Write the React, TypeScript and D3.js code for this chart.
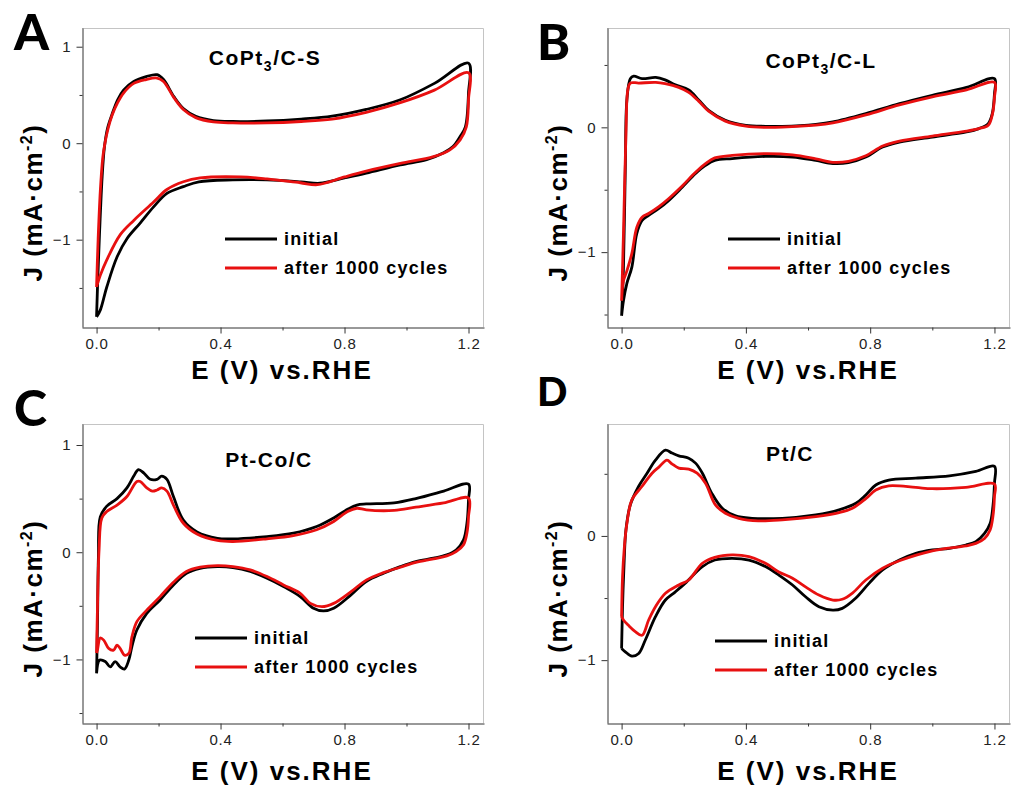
import React, { useEffect, useRef } from "react";
import * as d3 from "d3";

type Pt = [number, number];

const xTicks = [0, 0.4, 0.8, 1.2];
const xMinorTicks = [0.2, 0.6, 1.0];
const legendLabels = ["initial", "after 1000 cycles"];
const seriesColors = ["#000000", "#e81010"];

// CoPt3/C-S
const initialA: Pt[] = [
  [0, -1.8], [0.004, -1.4], [0.01, -0.9], [0.018, -0.35], [0.025, -0.05], [0.035, 0.15], [0.05, 0.3],
  [0.068, 0.45], [0.087, 0.55], [0.12, 0.64], [0.16, 0.69], [0.195, 0.71], [0.216, 0.66], [0.25, 0.48],
  [0.28, 0.36], [0.32, 0.28], [0.377, 0.235], [0.44, 0.225], [0.55, 0.23], [0.66, 0.25], [0.76, 0.28],
  [0.87, 0.35], [0.98, 0.45], [1.09, 0.62], [1.2, 0.83],
  [1.2, 0.52], [1.19, 0.17], [1.173, 0.07], [1.15, -0.035], [1.12, -0.1], [1.065, -0.17], [0.98, -0.225],
  [0.87, -0.31], [0.8, -0.36], [0.72, -0.415], [0.66, -0.4], [0.55, -0.38], [0.44, -0.38], [0.33, -0.4],
  [0.28, -0.45], [0.227, -0.52], [0.184, -0.66], [0.14, -0.83], [0.098, -0.99], [0.066, -1.18],
  [0.033, -1.49], [0.012, -1.73], [0, -1.8],
];
const afterA: Pt[] = [
  [0, -1.49], [0.005, -1.0], [0.012, -0.5], [0.02, -0.15], [0.027, 0.0], [0.037, 0.15], [0.05, 0.29],
  [0.068, 0.42], [0.087, 0.52], [0.12, 0.62], [0.16, 0.66], [0.195, 0.675], [0.216, 0.64], [0.25, 0.47],
  [0.28, 0.35], [0.32, 0.265], [0.377, 0.22], [0.44, 0.21], [0.55, 0.21], [0.66, 0.225], [0.76, 0.25],
  [0.87, 0.32], [0.98, 0.42], [1.09, 0.55], [1.2, 0.73],
  [1.2, 0.45], [1.193, 0.17], [1.173, 0.035], [1.14, -0.07], [1.087, -0.14], [0.98, -0.21], [0.87, -0.29],
  [0.8, -0.35], [0.713, -0.43], [0.657, -0.41], [0.55, -0.37], [0.465, -0.35], [0.334, -0.36], [0.28, -0.4],
  [0.227, -0.48], [0.184, -0.61], [0.12, -0.8], [0.076, -0.95], [0.033, -1.21], [0.012, -1.37], [0, -1.49],
];

// CoPt3/C-L
const initialB: Pt[] = [
  [0, -1.51], [0.006, -1.12], [0.012, -0.32], [0.017, 0.22], [0.028, 0.39], [0.039, 0.41], [0.066, 0.39],
  [0.11, 0.4], [0.14, 0.38], [0.173, 0.34], [0.216, 0.3], [0.248, 0.22], [0.28, 0.136], [0.334, 0.056],
  [0.4, 0.016], [0.463, 0.008], [0.517, 0.008], [0.625, 0.024], [0.68, 0.043], [0.786, 0.11], [0.894, 0.19],
  [1.0, 0.257], [1.11, 0.32], [1.2, 0.39],
  [1.2, 0.27], [1.193, 0.11], [1.18, 0.03], [1.15, -0.01], [1.11, -0.037], [1.0, -0.078], [0.894, -0.118],
  [0.84, -0.158], [0.786, -0.238], [0.73, -0.283], [0.68, -0.29], [0.625, -0.265], [0.55, -0.238],
  [0.463, -0.233], [0.356, -0.25], [0.3, -0.265], [0.27, -0.305], [0.238, -0.37], [0.195, -0.48],
  [0.152, -0.585], [0.12, -0.65], [0.087, -0.706], [0.066, -0.746], [0.049, -0.85], [0.033, -1.12],
  [0.017, -1.25], [0.006, -1.39], [0, -1.51],
];
const afterB: Pt[] = [
  [0, -1.39], [0.006, -0.85], [0.014, -0.05], [0.02, 0.3], [0.028, 0.355], [0.055, 0.355], [0.11, 0.36],
  [0.14, 0.35], [0.184, 0.32], [0.216, 0.28], [0.248, 0.21], [0.28, 0.13], [0.334, 0.05], [0.4, 0.01],
  [0.463, 0.0], [0.517, 0.002], [0.625, 0.018], [0.68, 0.036], [0.786, 0.1], [0.894, 0.18], [1.0, 0.245],
  [1.11, 0.3], [1.2, 0.36],
  [1.2, 0.24], [1.193, 0.1], [1.18, 0.016], [1.15, -0.01], [1.11, -0.03], [1.0, -0.07], [0.894, -0.11],
  [0.84, -0.15], [0.786, -0.228], [0.73, -0.272], [0.68, -0.28], [0.625, -0.252], [0.55, -0.22],
  [0.463, -0.21], [0.356, -0.225], [0.3, -0.245], [0.27, -0.29], [0.238, -0.36], [0.195, -0.47],
  [0.152, -0.57], [0.12, -0.635], [0.087, -0.69], [0.066, -0.72], [0.049, -0.8], [0.033, -1.01],
  [0.017, -1.15], [0.006, -1.23], [0, -1.39],
];

// Pt-Co/C
const initialC: Pt[] = [
  [0, -1.13], [0.003, -0.66], [0.006, -0.04], [0.012, 0.33], [0.033, 0.43], [0.066, 0.5], [0.098, 0.6],
  [0.12, 0.71], [0.135, 0.77], [0.152, 0.74], [0.173, 0.68], [0.195, 0.68], [0.21, 0.71], [0.227, 0.68],
  [0.248, 0.52], [0.28, 0.3], [0.324, 0.19], [0.39, 0.13], [0.44, 0.125], [0.55, 0.146], [0.635, 0.178],
  [0.71, 0.24], [0.765, 0.32], [0.81, 0.4], [0.84, 0.44], [0.87, 0.45], [0.96, 0.46], [1.03, 0.5],
  [1.12, 0.57], [1.2, 0.635],
  [1.2, 0.49], [1.195, 0.27], [1.184, 0.115], [1.16, 0.02], [1.13, -0.025], [1.087, -0.056], [1.03, -0.087],
  [0.98, -0.134], [0.926, -0.196], [0.87, -0.274], [0.82, -0.4], [0.765, -0.523], [0.732, -0.548],
  [0.7, -0.523], [0.657, -0.414], [0.603, -0.32], [0.55, -0.243], [0.496, -0.18], [0.44, -0.143],
  [0.39, -0.134], [0.334, -0.15], [0.29, -0.196], [0.248, -0.305], [0.205, -0.445], [0.162, -0.57],
  [0.13, -0.726], [0.114, -0.88], [0.104, -1.006], [0.09, -1.09], [0.076, -1.07], [0.06, -1.02],
  [0.044, -1.07], [0.028, -1.02], [0.01, -1.006], [0, -1.13],
];
const afterC: Pt[] = [
  [0, -0.94], [0.003, -0.51], [0.008, 0.02], [0.017, 0.32], [0.033, 0.38], [0.066, 0.44], [0.098, 0.52],
  [0.13, 0.66], [0.141, 0.66], [0.162, 0.6], [0.18, 0.57], [0.195, 0.58], [0.21, 0.6], [0.227, 0.57],
  [0.248, 0.44], [0.28, 0.27], [0.324, 0.17], [0.39, 0.11], [0.44, 0.1], [0.55, 0.125], [0.635, 0.155],
  [0.71, 0.21], [0.765, 0.287], [0.81, 0.38], [0.84, 0.41], [0.87, 0.395], [0.96, 0.39], [1.03, 0.42],
  [1.12, 0.46], [1.2, 0.505],
  [1.2, 0.33], [1.195, 0.18], [1.184, 0.07], [1.16, 0.006], [1.13, -0.034], [1.087, -0.062], [1.03, -0.095],
  [0.98, -0.14], [0.926, -0.19], [0.87, -0.26], [0.82, -0.37], [0.765, -0.477], [0.727, -0.508],
  [0.69, -0.477], [0.657, -0.383], [0.603, -0.305], [0.55, -0.227], [0.496, -0.165], [0.44, -0.134],
  [0.39, -0.125], [0.334, -0.14], [0.29, -0.18], [0.248, -0.28], [0.205, -0.414], [0.162, -0.54],
  [0.13, -0.648], [0.114, -0.79], [0.104, -0.944], [0.09, -0.96], [0.076, -0.897], [0.066, -0.866],
  [0.055, -0.913], [0.039, -0.897], [0.023, -0.82], [0.012, -0.8], [0.003, -0.91], [0, -0.94],
];

// Pt/C
const initialD: Pt[] = [
  [0, -0.906], [0.003, -0.57], [0.008, -0.22], [0.014, 0.05], [0.028, 0.25], [0.055, 0.4], [0.082, 0.505],
  [0.109, 0.61], [0.141, 0.69], [0.162, 0.667], [0.184, 0.645], [0.216, 0.626], [0.238, 0.586],
  [0.26, 0.505], [0.29, 0.344], [0.324, 0.223], [0.367, 0.161], [0.42, 0.142], [0.517, 0.142],
  [0.625, 0.169], [0.7, 0.21], [0.754, 0.263], [0.786, 0.33], [0.818, 0.41], [0.86, 0.45], [0.947, 0.465],
  [1.055, 0.484], [1.14, 0.52], [1.2, 0.56],
  [1.2, 0.425], [1.195, 0.237], [1.186, 0.1], [1.168, 0.02], [1.14, -0.046], [1.108, -0.073], [1.055, -0.1],
  [1.0, -0.113], [0.947, -0.14], [0.894, -0.194], [0.84, -0.274], [0.797, -0.38], [0.754, -0.5],
  [0.71, -0.583], [0.68, -0.597], [0.635, -0.57], [0.592, -0.49], [0.55, -0.395], [0.506, -0.315],
  [0.463, -0.247], [0.41, -0.194], [0.356, -0.18], [0.3, -0.194], [0.26, -0.247], [0.205, -0.38],
  [0.173, -0.45], [0.141, -0.516], [0.109, -0.65], [0.076, -0.84], [0.055, -0.946], [0.033, -0.968],
  [0.012, -0.933], [0, -0.906],
];
const afterD: Pt[] = [
  [0, -0.65], [0.003, -0.33], [0.009, -0.086], [0.017, 0.1], [0.033, 0.29], [0.066, 0.4], [0.098, 0.505],
  [0.12, 0.554], [0.146, 0.61], [0.162, 0.58], [0.184, 0.546], [0.216, 0.538], [0.243, 0.505],
  [0.27, 0.425], [0.302, 0.25], [0.334, 0.183], [0.377, 0.142], [0.44, 0.121], [0.517, 0.129],
  [0.625, 0.156], [0.7, 0.188], [0.743, 0.223], [0.786, 0.3], [0.818, 0.37], [0.86, 0.403], [0.947, 0.39],
  [1.0, 0.38], [1.108, 0.39], [1.2, 0.417],
  [1.2, 0.317], [1.195, 0.156], [1.186, 0.048], [1.168, -0.02], [1.14, -0.06], [1.108, -0.08], [1.0, -0.12],
  [0.894, -0.2], [0.84, -0.26], [0.786, -0.355], [0.743, -0.46], [0.71, -0.51], [0.68, -0.516],
  [0.635, -0.476], [0.592, -0.41], [0.55, -0.34], [0.506, -0.29], [0.463, -0.22], [0.41, -0.167],
  [0.356, -0.153], [0.3, -0.172], [0.26, -0.22], [0.216, -0.355], [0.184, -0.395], [0.141, -0.462],
  [0.109, -0.57], [0.087, -0.677], [0.066, -0.8], [0.044, -0.77], [0.022, -0.72], [0.006, -0.677], [0, -0.65],
];

const panels = [
  {
    letter: "A", title: ["CoPt", "3", "/C-S"], series: [initialA, afterA],
    yDomain: [-1.905, 1.194], yTicks: [-1, 0, 1], yMinor: [-1.5, -0.5, 0.5],
    box: { left: 82, right: 484, top: 28, bottom: 327 },
    letterPos: [14, 50, 50], titlePos: [265, 65], legendPos: [225, 239], xLabelPos: [282, 379], yLabelX: 33,
  },
  {
    letter: "B", title: ["CoPt", "3", "/C-L"], series: [initialB, afterB],
    yDomain: [-1.6, 0.796], yTicks: [-1, 0], yMinor: [-1.5, -0.5, 0.5],
    box: { left: 607, right: 1010, top: 28, bottom: 327 },
    letterPos: [537, 60, 50], titlePos: [821, 68], legendPos: [728, 239], xLabelPos: [808, 379], yLabelX: 558,
  },
  {
    letter: "C", title: ["Pt-Co/C"], series: [initialC, afterC],
    yDomain: [-1.593, 1.196], yTicks: [-1, 0, 1], yMinor: [-1.5, -0.5, 0.5],
    box: { left: 82, right: 484, top: 424, bottom: 723 },
    letterPos: [14, 426, 50], titlePos: [269, 467], legendPos: [195, 638], xLabelPos: [282, 780], yLabelX: 33,
  },
  {
    letter: "D", title: ["Pt/C"], series: [initialD, afterD],
    yDomain: [-1.506, 0.901], yTicks: [-1, 0], yMinor: [-0.5, 0.5],
    box: { left: 607, right: 1010, top: 424, bottom: 723 },
    letterPos: [537, 406, 40], titlePos: [790, 461], legendPos: [715, 641], xLabelPos: [808, 780], yLabelX: 558,
  },
];

const BOLD = "'Liberation Sans', Arial, sans-serif";

export default function App() {
  const ref = useRef<SVGSVGElement>(null);

  useEffect(() => {
    if (!ref.current) return;
    const svg = d3.select(ref.current);
    svg.selectAll("*").remove();

    panels.forEach((p) => {
      const b = p.box;
      const x = d3.scaleLinear().domain([-0.047, 1.25]).range([b.left, b.right]);
      const y = d3.scaleLinear().domain(p.yDomain).range([b.bottom, b.top]);
      const g = svg.append("g");

      // light frame on top/right
      g.append("path")
        .attr("d", `M${b.left},${b.top + 0.5}H${b.right - 0.5}V${b.bottom}`)
        .attr("fill", "none")
        .attr("stroke", "#c4c4c4")
        .attr("stroke-width", 1);

      const line = d3
        .line<Pt>()
        .x((d) => x(d[0]))
        .y((d) => y(d[1]))
        .curve(d3.curveCatmullRom.alpha(0.5));

      p.series.forEach((s, i) => {
        g.append("path")
          .attr("d", line(s))
          .attr("fill", "none")
          .attr("stroke", seriesColors[i])
          .attr("stroke-width", 2.8)
          .attr("stroke-linejoin", "round");
      });

      // axes
      const xAxis = g
        .append("g")
        .attr("transform", `translate(0,${b.bottom + 0.5})`)
        .attr("color", "#333")
        .call(d3.axisBottom(x).tickValues(xTicks).tickSize(6).tickSizeOuter(0).tickPadding(5).tickFormat(d3.format(".1f")));
      g.append("g")
        .attr("transform", `translate(0,${b.bottom + 0.5})`)
        .attr("color", "#333")
        .call(d3.axisBottom(x).tickValues(xMinorTicks).tickSize(3).tickSizeOuter(0).tickFormat(() => ""))
        .select(".domain")
        .remove();
      const yAxis = g
        .append("g")
        .attr("transform", `translate(${b.left + 0.5},0)`)
        .attr("color", "#333")
        .call(d3.axisLeft(y).tickValues(p.yTicks).tickSize(6).tickSizeOuter(0).tickPadding(5).tickFormat(d3.format("d")));
      g.append("g")
        .attr("transform", `translate(${b.left + 0.5},0)`)
        .attr("color", "#333")
        .call(d3.axisLeft(y).tickValues(p.yMinor).tickSize(3).tickSizeOuter(0).tickFormat(() => ""))
        .select(".domain")
        .remove();
      [xAxis, yAxis].forEach((a) =>
        a.selectAll("text")
          .attr("font-family", BOLD)
          .attr("font-size", 15)
          .attr("fill", "#222")
          .style("letter-spacing", "0.8px")
      );

      // panel letter
      g.append("text")
        .attr("x", p.letterPos[0])
        .attr("y", p.letterPos[1])
        .attr("font-family", "Lato, 'Open Sans', sans-serif")
        .attr("font-weight", 900)
        .attr("font-size", p.letterPos[2])
        .text(p.letter);

      // title
      const t = g
        .append("text")
        .attr("x", p.titlePos[0])
        .attr("y", p.titlePos[1])
        .attr("text-anchor", "middle")
        .attr("font-family", BOLD)
        .attr("font-weight", "bold")
        .attr("font-size", 21)
        .style("letter-spacing", "1.5px");
      t.append("tspan").text(p.title[0]);
      if (p.title.length > 1) {
        t.append("tspan").attr("dy", 6).attr("font-size", 14).text(p.title[1]);
        t.append("tspan").attr("dy", -6).text(p.title[2]);
      }

      // x label
      g.append("text")
        .attr("x", p.xLabelPos[0])
        .attr("y", p.xLabelPos[1])
        .attr("text-anchor", "middle")
        .attr("font-family", BOLD)
        .attr("font-weight", "bold")
        .attr("font-size", 26)
        .style("letter-spacing", "2px")
        .text("E (V) vs.RHE");

      // y label
      const yl = g
        .append("text")
        .attr("transform", `translate(${p.yLabelX},${(b.top + b.bottom) / 2 + 25}) rotate(-90)`)
        .attr("text-anchor", "middle")
        .attr("dy", "0.36em")
        .attr("font-family", BOLD)
        .attr("font-weight", "bold")
        .attr("font-size", 26)
        .style("letter-spacing", "1.5px");
      yl.append("tspan").text("J (mA\u00b7cm");
      yl.append("tspan").attr("dy", -10).attr("font-size", 16).text("-2");
      yl.append("tspan").attr("dy", 10).text(")");

      // legend
      const [lx, ly] = p.legendPos;
      legendLabels.forEach((lab, i) => {
        const yy = ly + i * 29;
        g.append("line")
          .attr("x1", lx)
          .attr("x2", lx + 52)
          .attr("y1", yy)
          .attr("y2", yy)
          .attr("stroke", seriesColors[i])
          .attr("stroke-width", 3);
        g.append("text")
          .attr("x", lx + 59)
          .attr("y", yy)
          .attr("dy", "0.36em")
          .attr("font-family", BOLD)
          .attr("font-weight", "bold")
          .attr("font-size", 18)
          .style("letter-spacing", "1.2px")
          .text(lab);
      });
    });
  }, []);

  return (
    <svg
      ref={ref}
      width={1011}
      height={789}
      style={{ position: "absolute", left: 0, top: 0, background: "#fff" }}
    />
  );
}
